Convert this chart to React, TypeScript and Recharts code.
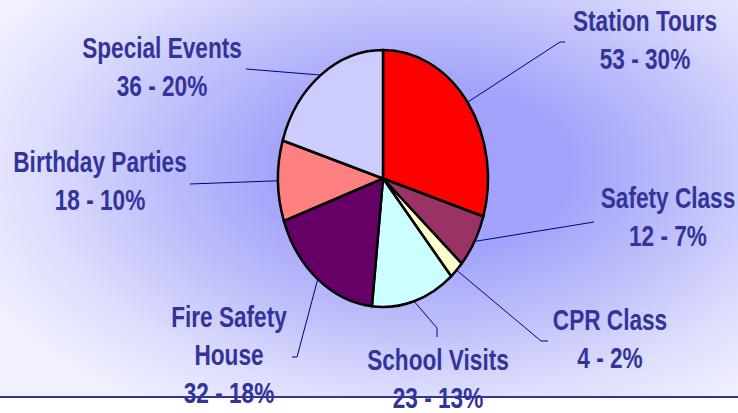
import React from "react";
import { PieChart, Pie, Cell } from "recharts";

// programme activity counts
const categories = [
  "Station Tours",
  "Safety Class",
  "CPR Class",
  "School Visits",
  "Fire Safety House",
  "Birthday Parties",
  "Special Events",
];
const visits = [53, 12, 4, 23, 32, 18, 36];
const labelLines = [
  ["Station Tours"],
  ["Safety Class"],
  ["CPR Class"],
  ["School Visits"],
  ["Fire Safety", "House"],
  ["Birthday Parties"],
  ["Special Events"],
];
const colors = ["#FF0000", "#993366", "#FFFFCC", "#CCFFFF", "#660066", "#FF8080", "#CCCCFF"];

const data = categories.map((name, i) => ({ name, value: visits[i] }));

// label placement (text centre, first baseline, leader elbow points)
const labelLayout = [
  { x: 645, y: 31, elbow: [[560, 42], [565, 42]] },
  { x: 668, y: 208, elbow: [[594, 222]] },
  { x: 610, y: 330, elbow: [[541, 341], [548, 341]] },
  { x: 438, y: 370, elbow: [[437, 328], [437, 337]] },
  { x: 229, y: 327, elbow: [[297, 357], [292, 357]] },
  { x: 100, y: 172, elbow: [[190, 184]] },
  { x: 162, y: 58, elbow: [[246, 69]] },
];

const W = 738;
const H = 413;
const RX = 105;
const SQUASH = 128.5 / 105;
const RAD = Math.PI / 180;
const LINE_H = 38;
const NARROW = 0.78; // no narrow face installed, squeeze the regular bold one
const textColor = "#333399";
const font = '"Liberation Sans", Arial, sans-serif';

const edge = (cx: number, cy: number, r: number, a: number) => [
  cx + r * Math.cos(a * RAD),
  cy - r * SQUASH * Math.sin(a * RAD),
];

const EllipseSector = (props: any) => {
  const { cx, cy, outerRadius, startAngle, endAngle, fill } = props;
  const [x1, y1] = edge(cx, cy, outerRadius, startAngle);
  const [x2, y2] = edge(cx, cy, outerRadius, endAngle);
  const large = Math.abs(startAngle - endAngle) > 180 ? 1 : 0;
  const sweep = startAngle > endAngle ? 1 : 0;
  return (
    <path
      d={`M${cx},${cy} L${x1},${y1} A${outerRadius},${outerRadius * SQUASH} 0 ${large} ${sweep} ${x2},${y2} Z`}
      fill={fill}
      stroke="#000"
      strokeWidth={2.5}
      strokeLinejoin="round"
    />
  );
};

const renderLabel = (props: any) => {
  const { cx, cy, outerRadius, midAngle, index, value, percent } = props;
  const lay = labelLayout[index];
  const [sx, sy] = edge(cx, cy, outerRadius, midAngle);
  const pts = [[sx, sy], ...lay.elbow].map((p) => p.join(",")).join(" ");
  const lines = [...labelLines[index], `${value} - ${Math.round(percent * 100)}%`];
  return (
    <g>
      <polyline points={pts} fill="none" stroke="#000080" strokeWidth={1} />
      <text
        x={lay.x}
        y={lay.y}
        textAnchor="middle"
        fill={textColor}
        fontFamily={font}
        fontWeight="bold"
        fontSize={29}
        transform={`translate(${lay.x},0) scale(${NARROW},1) translate(${-lay.x},0)`}
      >
        {lines.map((l, i) => (
          <tspan key={i} x={lay.x} y={lay.y + i * LINE_H}>
            {l}
          </tspan>
        ))}
      </text>
    </g>
  );
};

export default function App() {
  return (
    <div style={{ position: "absolute", left: 0, top: 0, width: W, height: H, background: "#fff", overflow: "hidden" }}>
      <div
        style={{
          position: "absolute",
          left: 0,
          top: 0,
          width: W,
          height: 396,
          borderBottom: `2px solid ${textColor}`,
          background:
            "radial-gradient(ellipse 490px 285px at 425px 170px, #a0a0fb 0%, #a3a3fb 30%, #c0c0fb 56%, #dcdcfd 78%, #f0f0ff 100%)",
        }}
      />
      <div style={{ position: "absolute", left: 0, top: 0 }}>
        <PieChart width={W} height={H} margin={{ top: 0, right: 0, bottom: 0, left: 0 }} style={{ overflow: "visible" }}>
          <Pie
            data={data}
            dataKey="value"
            nameKey="name"
            cx={383}
            cy={178.5}
            outerRadius={RX}
            startAngle={90}
            endAngle={-270}
            shape={EllipseSector}
            label={renderLabel}
            labelLine={false}
            isAnimationActive={false}
          >
            {data.map((d, i) => (
              <Cell key={d.name} fill={colors[i]} />
            ))}
          </Pie>
        </PieChart>
      </div>
    </div>
  );
}
